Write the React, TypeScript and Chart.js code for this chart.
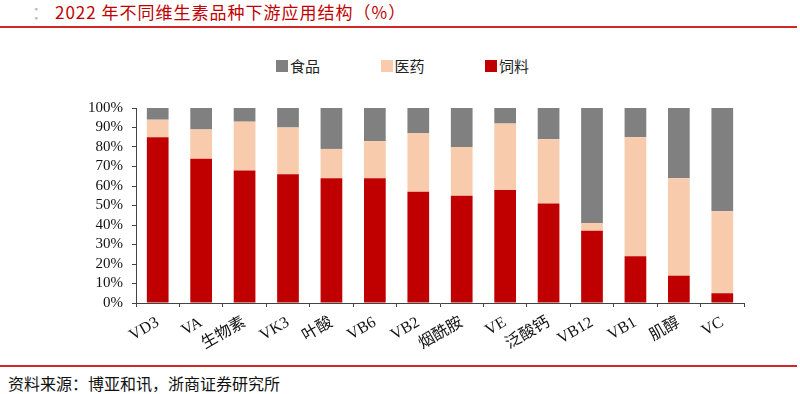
import React, { useEffect, useRef } from "react";
import { Chart, registerables } from "chart.js";

Chart.register(...registerables);

const titleText = "2022 年不同维生素品种下游应用结构（%）";
const sourceText = "资料来源：博亚和讯，浙商证券研究所";

const categories = ["VD3", "VA", "生物素", "VK3", "叶酸", "VB6", "VB2", "烟酰胺", "VE", "泛酸钙", "VB12", "VB1", "肌醇", "VC"];
const feedValues = [85, 74, 68, 66, 64, 64, 57, 55, 58, 51, 37, 24, 14, 5];
const pharmaValues = [9, 15, 25, 24, 15, 19, 30, 25, 34, 33, 4, 61, 50, 42];
const foodValues = [6, 11, 7, 10, 21, 17, 13, 20, 8, 16, 59, 15, 36, 53];

const seriesNames = ["饲料", "医药", "食品"];
const seriesColors = ["#C00000", "#F8CBAD", "#808080"];
const seriesValues = [feedValues, pharmaValues, foodValues];

const yMin = 0;
const yMax = 100;
const yStep = 10;

const axisFont = "'Liberation Serif', 'Times New Roman', 'Noto Sans CJK SC', serif";
const cjkFont = "'Noto Sans CJK SC', 'Liberation Serif', serif";

export default function App() {
  const canvasRef = useRef<HTMLCanvasElement | null>(null);

  useEffect(() => {
    if (!canvasRef.current) return;
    const chart = new Chart(canvasRef.current, {
      type: "bar",
      data: {
        labels: categories,
        datasets: seriesNames.map((name, i) => ({
          label: name,
          data: seriesValues[i],
          backgroundColor: seriesColors[i],
          borderWidth: 0,
          categoryPercentage: 1,
          barPercentage: 0.5,
        })),
      },
      options: {
        animation: false,
        responsive: false,
        maintainAspectRatio: false,
        layout: { padding: { left: 0, right: 56, top: 17, bottom: 0 } },
        plugins: {
          legend: { display: false },
          tooltip: { enabled: false },
          title: { display: false },
        },
        scales: {
          x: {
            stacked: true,
            grid: {
              display: true,
              drawOnChartArea: false,
              drawTicks: true,
              tickLength: 4,
              color: "#444",
              offset: true,
            },
            border: { display: true, color: "#444", width: 1 },
            ticks: {
              autoSkip: false,
              minRotation: 30,
              maxRotation: 30,
              color: "#111",
              padding: 6,
              font: { family: axisFont, size: 16 },
            },
            afterFit: (scale: any) => {
              scale.height = 57;
            },
          },
          y: {
            stacked: true,
            min: yMin,
            max: yMax,
            grid: {
              display: true,
              drawOnChartArea: false,
              drawTicks: true,
              tickLength: 4,
              color: "#444",
            },
            border: { display: true, color: "#444", width: 1 },
            ticks: {
              stepSize: yStep,
              autoSkip: false,
              color: "#111",
              padding: 9,
              font: { family: axisFont, size: 15 },
              callback: (v: any) => `${v}%`,
            },
            afterFit: (scale: any) => {
              scale.width = 136;
            },
          },
        },
      },
    });
    return () => chart.destroy();
  }, []);

  const legendOrder = [2, 1, 0];

  return (
    <div style={{ position: "absolute", left: 0, top: 0, width: 800, height: 394, background: "#fff", overflow: "hidden" }}>
      <div style={{ position: "absolute", left: 32, top: 1, fontFamily: cjkFont, fontSize: 17, color: "#bbb", lineHeight: "22px" }}>：</div>
      <div style={{ position: "absolute", left: 55, top: 1, fontFamily: cjkFont, fontSize: 17, letterSpacing: 1, color: "#C00000", lineHeight: "22px", whiteSpace: "nowrap" }}>
        {titleText}
      </div>
      <div style={{ position: "absolute", left: 0, top: 26, width: 797, height: 2, background: "#D02828" }} />
      <div style={{ position: "absolute", left: 276, top: 57, display: "flex", gap: 0 }}>
        {legendOrder.map((idx, k) => (
          <div key={idx} style={{ display: "flex", alignItems: "center", width: k < 2 ? 104.5 : 60, height: 18 }}>
            <div style={{ width: 12, height: 12, background: seriesColors[idx], marginRight: 2 }} />
            <span style={{ fontFamily: cjkFont, fontSize: 15, color: "#222", lineHeight: "18px" }}>{seriesNames[idx]}</span>
          </div>
        ))}
      </div>
      <canvas ref={canvasRef} width={800} height={270} style={{ position: "absolute", left: 0, top: 90, width: 800, height: 270 }} />
      <div style={{ position: "absolute", left: 0, top: 365, width: 797, height: 2, background: "#D02828" }} />
      <div style={{ position: "absolute", left: 8, top: 372, fontFamily: cjkFont, fontSize: 16, color: "#111", lineHeight: "22px", whiteSpace: "nowrap" }}>
        {sourceText}
      </div>
    </div>
  );
}
